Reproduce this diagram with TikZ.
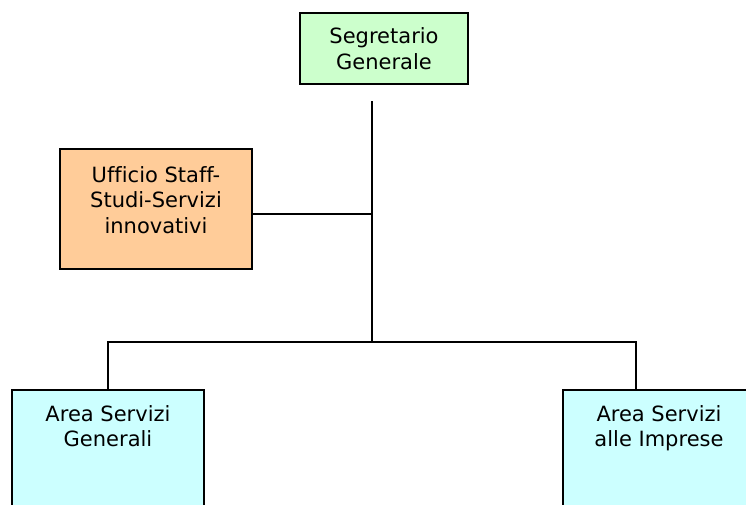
\documentclass[tikz,border=0pt]{standalone}
\usepackage{fontspec}
\setmainfont[Ligatures=NoCommon]{DejaVu Sans}
\definecolor{boxgreen}{HTML}{CCFFCC}
\definecolor{boxorange}{HTML}{FFCC99}
\definecolor{boxcyan}{HTML}{CCFFFF}
\begin{document}
\begin{tikzpicture}[x=1pt,y=-1pt,
  orgbox/.style={draw=black,line width=2pt,rectangle,inner sep=0pt},
  boxtext/.style={align=center,inner sep=0pt,font=\fontsize{21pt}{25.5pt}\selectfont},
  conn/.style={draw=black,line width=2pt}]
\useasboundingbox (0,0) rectangle (746,504);
\clip (0,0) rectangle (746,504);
% boxes
\node[orgbox,fill=boxgreen,minimum width=168pt,minimum height=71pt] (sg) at (384,48.5) {};
\node[boxtext] at (sg.center) {Segretario\\Generale};
\node[orgbox,fill=boxorange,minimum width=192pt,minimum height=120pt] (uff) at (156,209) {};
\node[boxtext,anchor=north] at ([yshift=-18pt]uff.north) {Ufficio Staff-\\Studi-Servizi\\innovativi};
\node[orgbox,fill=boxcyan,minimum width=192pt,minimum height=140pt] (asg) at (108,460) {};
\node[boxtext,anchor=north] at ([yshift=-16pt]asg.north) {Area Servizi\\Generali};
\node[orgbox,fill=boxcyan,minimum width=192pt,minimum height=140pt] (asi) at (659,460) {};
\node[boxtext,anchor=north] at ([yshift=-16pt]asi.north) {Area Servizi\\alle Imprese};
% connector points
\coordinate (vtop) at (372,101);
\coordinate (vmid) at (372,214);
\coordinate (vbot) at (372,342);
\coordinate (hl) at (108,342);
\coordinate (hr) at (636,342);
\draw[conn] (vtop) -- (vbot);
\draw[conn] (uff.east |- vmid) -- (vmid);
\draw[conn] (asg.north) -- (hl) -- (hr) -- (asi.north -| hr);
\end{tikzpicture}
\end{document}
